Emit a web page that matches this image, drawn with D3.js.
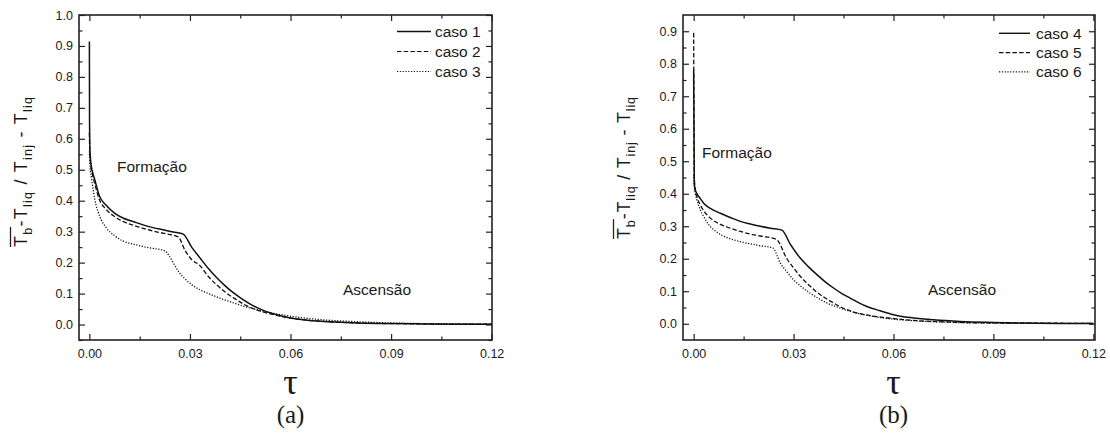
<!DOCTYPE html>
<html>
<head>
<meta charset="utf-8">
<script src="https://cdn.jsdelivr.net/npm/d3@7"></script>
<style>
  html, body { margin: 0; padding: 0; background: #fff; }
  svg { display: block; }
  text { font-family: "Liberation Sans", Arial, sans-serif; fill: #1a1a1a; }
  text.serif { font-family: "Liberation Serif", "Times New Roman", serif; }
</style>
</head>
<body>
<svg id="chart" width="1110" height="437"></svg>
<script>
// ---- data ----
const tau1 = [0, 0.00005, 0.0002, 0.0006, 0.001, 0.0016, 0.003, 0.005, 0.0075, 0.01, 0.013, 0.016, 0.019, 0.022, 0.025, 0.028,
  0.0305, 0.033, 0.0355, 0.038, 0.0405, 0.043, 0.0455, 0.048, 0.0505, 0.053, 0.0565, 0.06, 0.065, 0.07, 0.075, 0.08, 0.09, 0.1, 0.11, 0.12];
const caso1 = [0.914, 0.65, 0.555, 0.51, 0.49, 0.468, 0.415, 0.385, 0.36, 0.344, 0.333, 0.322, 0.313, 0.306, 0.299, 0.292,
  0.25, 0.215, 0.181, 0.151, 0.125, 0.102, 0.083, 0.066, 0.052, 0.041, 0.03, 0.021, 0.014, 0.01, 0.007, 0.005, 0.003, 0.002, 0.001, 0.001];

const tau2 = [0, 0.00005, 0.0002, 0.0006, 0.001, 0.0016, 0.003, 0.005, 0.0075, 0.01, 0.013, 0.016, 0.019, 0.022, 0.0265,
  0.0285, 0.0305, 0.033, 0.0355, 0.038, 0.0405, 0.043, 0.0455, 0.048, 0.0505, 0.053, 0.0565, 0.06, 0.065, 0.07, 0.075, 0.08, 0.09, 0.1, 0.11, 0.12];
const caso2 = [0.62, 0.58, 0.54, 0.5, 0.48, 0.455, 0.403, 0.372, 0.349, 0.333, 0.321, 0.311, 0.302, 0.295, 0.283,
  0.24, 0.21, 0.19, 0.155, 0.128, 0.105, 0.086, 0.069, 0.055, 0.045, 0.037, 0.028, 0.021, 0.014, 0.01, 0.007, 0.005, 0.003, 0.002, 0.001, 0.001];

const tau3 = [0, 0.0002, 0.0006, 0.001, 0.0016, 0.003, 0.005, 0.0075, 0.01, 0.013, 0.016, 0.019, 0.0225,
  0.0238, 0.0252, 0.0268, 0.0285, 0.0305, 0.033, 0.036, 0.04, 0.043, 0.047, 0.05, 0.055, 0.06, 0.065, 0.07, 0.08, 0.09, 0.1, 0.11, 0.12];
const caso3 = [0.56, 0.51, 0.475, 0.445, 0.405, 0.352, 0.313, 0.287, 0.27, 0.26, 0.252, 0.246, 0.238,
  0.222, 0.196, 0.168, 0.148, 0.129, 0.112, 0.098, 0.081, 0.07, 0.056, 0.048, 0.036, 0.027, 0.02, 0.015, 0.009, 0.005, 0.003, 0.002, 0.001];

const tau4 = [0, 0.0002, 0.0005, 0.001, 0.002, 0.003, 0.005, 0.008, 0.011, 0.014, 0.017, 0.02, 0.023, 0.0265,
  0.029, 0.032, 0.0345, 0.037, 0.0395, 0.042, 0.0445, 0.047, 0.0495, 0.052, 0.056, 0.06, 0.065, 0.072, 0.08, 0.09, 0.1, 0.11, 0.12];
const caso4 = [0.78, 0.43, 0.412, 0.4, 0.385, 0.371, 0.355, 0.34, 0.327, 0.315, 0.307, 0.3, 0.294, 0.288,
  0.245, 0.202, 0.175, 0.151, 0.129, 0.11, 0.093, 0.079, 0.065, 0.053, 0.04, 0.028, 0.019, 0.012, 0.007, 0.004, 0.002, 0.001, 0.001];

const tau5 = [0, 0.0002, 0.0005, 0.001, 0.002, 0.003, 0.005, 0.008, 0.011, 0.014, 0.017, 0.02, 0.0248,
  0.028, 0.03, 0.032, 0.0345, 0.037, 0.0395, 0.042, 0.0445, 0.047, 0.05, 0.055, 0.06, 0.065, 0.075, 0.085, 0.1, 0.12];
const caso5 = [0.895, 0.45, 0.41, 0.39, 0.365, 0.348, 0.325, 0.306, 0.294, 0.284, 0.276, 0.27, 0.26,
  0.2, 0.172, 0.146, 0.12, 0.097, 0.079, 0.064, 0.05, 0.04, 0.031, 0.022, 0.016, 0.011, 0.006, 0.003, 0.002, 0.001];

const tau6 = [0, 0.0002, 0.0005, 0.001, 0.002, 0.003, 0.0045, 0.006, 0.008, 0.01, 0.013, 0.016, 0.02, 0.0238,
  0.026, 0.028, 0.03, 0.0325, 0.035, 0.0375, 0.04, 0.0435, 0.047, 0.052, 0.06, 0.065, 0.075, 0.09, 0.105, 0.12];
const caso6 = [0.46, 0.42, 0.4, 0.38, 0.35, 0.33, 0.305, 0.29, 0.275, 0.265, 0.255, 0.248, 0.24, 0.233,
  0.187, 0.16, 0.135, 0.113, 0.094, 0.078, 0.064, 0.05, 0.038, 0.026, 0.014, 0.01, 0.005, 0.002, 0.001, 0.001];

const xTicks = [0, 0.03, 0.06, 0.09, 0.12];
const xMinor = [0.015, 0.045, 0.075, 0.105];
const yTicksA = [0, 0.1, 0.2, 0.3, 0.4, 0.5, 0.6, 0.7, 0.8, 0.9, 1.0];
const yTicksB = [0, 0.1, 0.2, 0.3, 0.4, 0.5, 0.6, 0.7, 0.8, 0.9];
const yMinorA = [-0.05, 0.05, 0.15, 0.25, 0.35, 0.45, 0.55, 0.65, 0.75, 0.85, 0.95];
const yMinorB = [0.05, 0.15, 0.25, 0.35, 0.45, 0.55, 0.65, 0.75, 0.85];
const namesA = ["caso 1", "caso 2", "caso 3"];
const namesB = ["caso 4", "caso 5", "caso 6"];

const dashes = ["none", "4.5,2.2", "1.2,1.6"];

const svg = d3.select("#chart");

function drawPanel(p) {
  const x = d3.scaleLinear().domain(p.xDomain).range([p.left, p.right]);
  const y = d3.scaleLinear().domain(p.yDomain).range([p.bottom, p.top]);
  const g = svg.append("g");

  // curves
  const line = d3.line()
    .x(d => x(d[0]))
    .y(d => y(d[1]))
    .curve(d3.curveMonotoneX);

  p.series.forEach((s, i) => {
    g.append("path")
      .datum(d3.zip(s.tau, s.vals))
      .attr("d", line)
      .attr("fill", "none")
      .attr("stroke", "#111")
      .attr("stroke-width", i === 0 ? 1.5 : 1.3)
      .attr("stroke-dasharray", dashes[i]);
  });

  // axes, ticks all pointing inward
  const axisStyle = sel => {
    sel.select(".domain").remove();
    sel.selectAll("line").attr("stroke", "#222").attr("stroke-width", 1.2);
    sel.selectAll("text").attr("font-size", 12.5).attr("fill", "#1a1a1a");
  };

  g.append("g").attr("transform", `translate(0,${p.bottom})`)
    .call(d3.axisBottom(x).tickValues(xTicks).tickSize(-6).tickPadding(9).tickFormat(d3.format(".2f")))
    .call(axisStyle);
  g.append("g").attr("transform", `translate(0,${p.bottom})`)
    .call(d3.axisBottom(x).tickValues(xMinor).tickSize(-3.5).tickFormat(""))
    .call(axisStyle);
  g.append("g").attr("transform", `translate(0,${p.top})`)
    .call(d3.axisTop(x).tickValues(xTicks).tickSize(-6).tickFormat(""))
    .call(axisStyle);
  g.append("g").attr("transform", `translate(0,${p.top})`)
    .call(d3.axisTop(x).tickValues(xMinor).tickSize(-3.5).tickFormat(""))
    .call(axisStyle);

  g.append("g").attr("transform", `translate(${p.left},0)`)
    .call(d3.axisLeft(y).tickValues(p.yTicks).tickSize(-6).tickPadding(6).tickFormat(d3.format(".1f")))
    .call(axisStyle);
  g.append("g").attr("transform", `translate(${p.left},0)`)
    .call(d3.axisLeft(y).tickValues(p.yMinor).tickSize(-3.5).tickFormat(""))
    .call(axisStyle);
  g.append("g").attr("transform", `translate(${p.right},0)`)
    .call(d3.axisRight(y).tickValues(p.yTicks).tickSize(-6).tickFormat(""))
    .call(axisStyle);
  g.append("g").attr("transform", `translate(${p.right},0)`)
    .call(d3.axisRight(y).tickValues(p.yMinor).tickSize(-3.5).tickFormat(""))
    .call(axisStyle);

  g.append("rect")
    .attr("x", p.left).attr("y", p.top)
    .attr("width", p.right - p.left).attr("height", p.bottom - p.top)
    .attr("fill", "none").attr("stroke", "#222").attr("stroke-width", 1.6);

  // legend
  p.names.forEach((name, i) => {
    const ly = p.legend.y + i * p.legend.step;
    g.append("line")
      .attr("x1", p.legend.x1).attr("x2", p.legend.x2)
      .attr("y1", ly).attr("y2", ly)
      .attr("stroke", "#111").attr("stroke-width", i === 0 ? 1.4 : 1.2)
      .attr("stroke-dasharray", dashes[i]);
    g.append("text")
      .attr("x", p.legend.tx).attr("y", ly)
      .attr("dy", "0.36em")
      .attr("font-size", 15.5)
      .text(name);
  });

  // phase annotations
  g.append("text").attr("x", p.form[0]).attr("y", p.form[1]).attr("font-size", 15.5).text("Formação");
  g.append("text").attr("x", p.asc[0]).attr("y", p.asc[1]).attr("font-size", 15.5).text("Ascensão");

  // y label with overline on T_b
  const yl = g.append("text")
    .attr("transform", `translate(${p.ylab[0]},${p.ylab[1]}) rotate(-90)`)
    .attr("text-anchor", "middle")
    .attr("font-size", 18);
  const parts = [
    ["T", 18, 0], ["b", 12.5, 5], ["-T", 18, -5], ["liq", 12.5, 5],
    [" / T", 18, -5], ["inj", 12.5, 5], [" - T", 18, -5], ["liq", 12.5, 5]
  ];
  parts.forEach(([t, fs, dy]) => {
    yl.append("tspan").attr("font-size", fs).attr("dy", dy).text(t);
  });
  yl.attr("textLength", p.ylab[2]).attr("lengthAdjust", "spacing");
  const node = yl.node();
  const start = node.getStartPositionOfChar(0).x;
  const endB = node.getEndPositionOfChar(1).x;
  g.append("line")
    .attr("transform", `translate(${p.ylab[0]},${p.ylab[1]}) rotate(-90)`)
    .attr("x1", start).attr("x2", endB + 1)
    .attr("y1", -16.5).attr("y2", -16.5)
    .attr("stroke", "#222").attr("stroke-width", 1.3);

  // tau label and panel tag
  const cx = (x(0) + x(0.12)) / 2;
  g.append("text").attr("class", "serif")
    .attr("x", cx).attr("y", 394)
    .attr("text-anchor", "middle")
    .attr("font-size", 36)
    .text("τ");
  g.append("text").attr("class", "serif")
    .attr("x", cx).attr("y", 423)
    .attr("text-anchor", "middle")
    .attr("font-size", 25)
    .text(p.tag);
}

drawPanel({
  left: 79, right: 492, top: 15, bottom: 340,
  xDomain: [-0.0031, 0.1201], yDomain: [-0.05, 1.0],
  yTicks: yTicksA, yMinor: yMinorA,
  series: [{ tau: tau1, vals: caso1 }, { tau: tau2, vals: caso2 }, { tau: tau3, vals: caso3 }],
  names: namesA,
  legend: { x1: 397, x2: 431, tx: 435, y: 31.5, step: 20 },
  form: [117, 172], asc: [343, 295],
  ylab: [27, 172, 150],
  tag: "(a)"
});

drawPanel({
  left: 683, right: 1095, top: 15, bottom: 340,
  xDomain: [-0.0032, 0.1205], yDomain: [-0.05, 0.95],
  yTicks: yTicksB, yMinor: yMinorB,
  series: [{ tau: tau4, vals: caso4 }, { tau: tau5, vals: caso5 }, { tau: tau6, vals: caso6 }],
  names: namesB,
  legend: { x1: 999, x2: 1030, tx: 1036, y: 33.3, step: 19.3 },
  form: [702, 158], asc: [928, 295],
  ylab: [630, 168, 142],
  tag: "(b)"
});
</script>
</body>
</html>
